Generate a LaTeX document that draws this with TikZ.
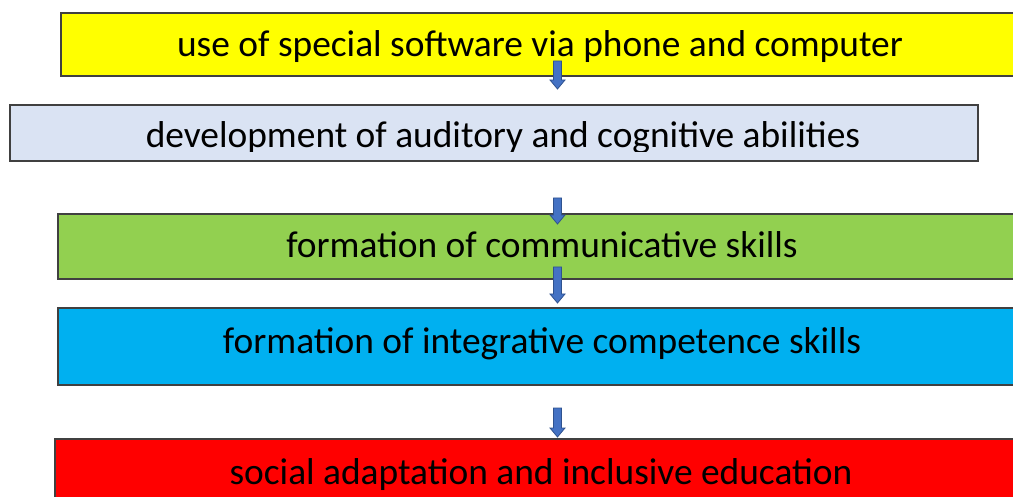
\documentclass[tikz,border=0pt]{standalone}
\usepackage{fontspec}
\setmainfont{Carlito}
\definecolor{boxyellow}{HTML}{FFFF00}
\definecolor{boxpale}{HTML}{DAE3F3}
\definecolor{boxgreen}{HTML}{92D050}
\definecolor{boxcyan}{HTML}{00B0F0}
\definecolor{boxred}{HTML}{FF0000}
\definecolor{arrowfill}{HTML}{4472C4}
\definecolor{arrowline}{HTML}{2F528F}

\begin{document}
\begin{tikzpicture}[x=1pt,y=-1pt,
	box/.style={draw=black!75,line width=1.3pt},
	label/.style={anchor=base,inner sep=0pt,font=\fontsize{37.4}{37.4}\selectfont},
	blockarrow/.style={fill=arrowfill,draw=arrowline,line width=.8pt}]
	\useasboundingbox (0,0) rectangle (1013,497);
	\clip (0,0) rectangle (1013,497);
	\path
	(61,13) coordinate (Y1) (1020,76) coordinate (Y2)
	(10,105) coordinate (P1) (978,161) coordinate (P2)
	(58,214) coordinate (G1) (1020,279) coordinate (G2)
	(58,308) coordinate (C1) (1020,385) coordinate (C2)
	(55,439) coordinate (R1) (1020,505) coordinate (R2);
	\draw[box,fill=boxyellow] (Y1) rectangle (Y2);
	\draw[box,fill=boxpale] (P1) rectangle (P2);
	\draw[box,fill=boxgreen] (G1) rectangle (G2);
	\draw[box,fill=boxcyan] (C1) rectangle (C2);
	\draw[box,fill=boxred] (R1) rectangle (R2);
	\node[label] (software) at (540,57) {use of special software via phone and computer};
	\begin{scope}
		\clip (P1) rectangle (978,152);
		\node[label] (auditory) at (503,148) {development of auditory and cognitive abilities};
	\end{scope}
	\node[label] (communicative) at (542,258) {formation of communicative skills};
	\node[label] (integrative) at (542,353) {formation of integrative competence skills};
	\node[label] (inclusive) at (541,484) {social adaptation and inclusive education};
	% small block arrows between the boxes
	\foreach \t/\b in {61/89,198/224,267/303,408/437}
	\draw[blockarrow] (553.5,\t) -- (561.5,\t) -- (561.5,\b-9) -- (565,\b-9) -- (557.5,\b)
		-- (550,\b-9) -- (553.5,\b-9) -- cycle;
\end{tikzpicture}
\end{document}
